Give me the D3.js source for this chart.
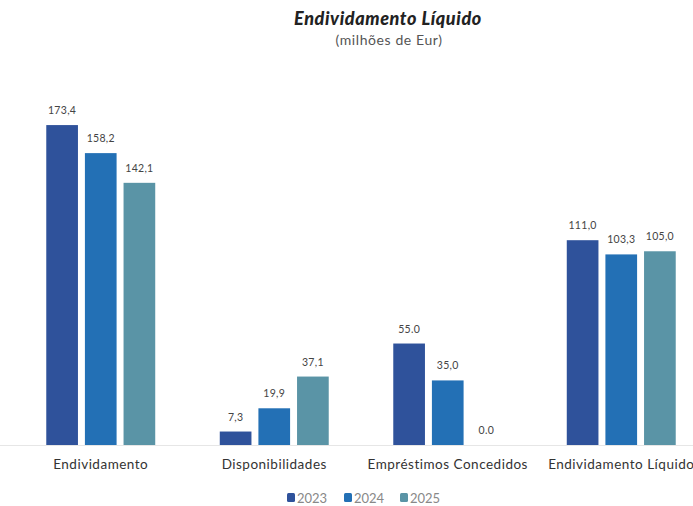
<!DOCTYPE html>
<html><head><meta charset="utf-8">
<script src="https://cdn.jsdelivr.net/npm/d3@7"></script>
<style>body{margin:0;background:#fff}</style>
</head><body>
<svg id="c" width="693" height="506"></svg>
<script>
const categories = ["Endividamento", "Disponibilidades", "Empréstimos Concedidos", "Endividamento Líquido"];
const years = ["2023", "2024", "2025"];
const values2023 = [173.4, 7.3, 55.0, 111.0];
const values2024 = [158.2, 19.9, 35.0, 103.3];
const values2025 = [142.1, 37.1, 0.0, 105.0];
const labels2023 = ["173,4", "7,3", "55.0", "111,0"];
const labels2024 = ["158,2", "19,9", "35,0", "103,3"];
const labels2025 = ["142,1", "37,1", "0.0", "105,0"];
const colors = ["#2f529b", "#2370b5", "#5a94a6"];

const series = [values2023, values2024, values2025];
const seriesLabels = [labels2023, labels2024, labels2025];
const svg = d3.select("#c");
const font = "Lato, 'Open Sans', sans-serif";

const x0 = d3.scaleBand().domain(categories).range([14, 708]).paddingInner(0.372).paddingOuter(0.186);
const x1 = d3.scaleBand().domain(years).range([0, x0.bandwidth()]).paddingInner(0.18).paddingOuter(0);
const y = d3.scaleLinear().domain([0, 180]).range([445, 445 - 180 * 1.845]);

// baseline
svg.append("line").attr("x1", 0).attr("x2", 693).attr("y1", y(0) + 0.5).attr("y2", y(0) + 0.5)
  .attr("stroke", "#e6e6e6").attr("stroke-width", 1);

const data = [];
categories.forEach((c, i) => years.forEach((yr, j) => data.push({c, yr, j, v: series[j][i], l: seriesLabels[j][i]})));

svg.append("g").selectAll("rect").data(data.filter(d => d.v > 0)).join("rect")
  .attr("x", d => x0(d.c) + x1(d.yr))
  .attr("y", d => y(d.v))
  .attr("width", x1.bandwidth())
  .attr("height", d => y(0) - y(d.v))
  .attr("fill", d => colors[d.j]);

svg.append("g").selectAll("text").data(data).join("text")
  .attr("x", d => x0(d.c) + x1(d.yr) + x1.bandwidth() / 2)
  .attr("y", d => y(d.v) - 11)
  .attr("text-anchor", "middle")
  .attr("font-family", font).attr("font-size", 10.5).attr("fill", "#444")
  .attr("letter-spacing", 0.3)
  .text(d => d.l);

// category axis
const xAxis = svg.append("g").attr("transform", `translate(0,${y(0)})`)
  .call(d3.axisBottom(x0).tickSize(0).tickPadding(14));
xAxis.select(".domain").remove();
xAxis.selectAll("text").attr("font-family", font).attr("font-size", 13.5).attr("fill", "#333")
  .attr("letter-spacing", 0.5);

// title
svg.append("text").attr("x", 388).attr("y", 25).attr("text-anchor", "middle")
  .attr("font-family", font).attr("font-size", 18).attr("font-weight", 900).attr("font-style", "italic")
  .attr("letter-spacing", 0.6)
  .attr("fill", "#222").text("Endividamento Líquido");
svg.append("text").attr("x", 389).attr("y", 45).attr("text-anchor", "middle")
  .attr("font-family", font).attr("font-size", 14).attr("fill", "#555")
  .attr("letter-spacing", 0.6).text("(milhões de Eur)");

// legend
const legendX = [287, 344, 400];
const lg = svg.append("g").selectAll("g").data(years).join("g")
  .attr("transform", (d, i) => `translate(${legendX[i]},498)`);
lg.append("rect").attr("x", 0).attr("y", -5).attr("width", 8).attr("height", 9).attr("rx", 1.5)
  .attr("fill", (d, i) => colors[i]);
lg.append("text").attr("x", 10).attr("y", 4.5)
  .attr("font-family", font).attr("font-size", 13).attr("fill", "#888").text(d => d);
</script>
</body></html>
